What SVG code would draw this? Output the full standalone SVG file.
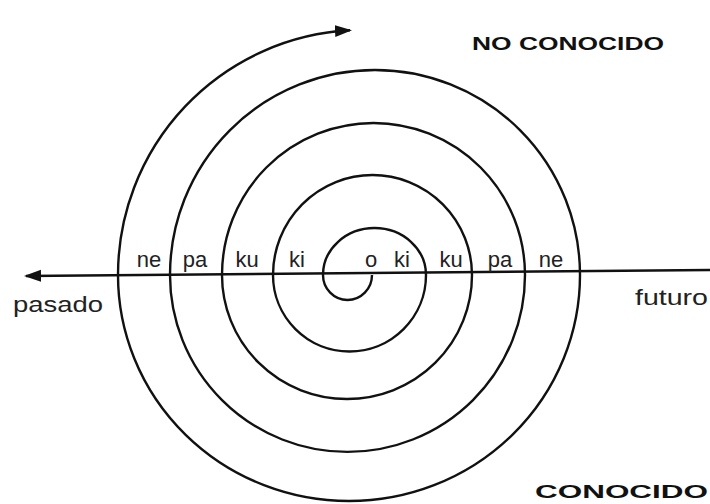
<svg xmlns="http://www.w3.org/2000/svg" width="710" height="504" viewBox="0 0 710 504">
<style>
.ln{fill:none;stroke:#111;stroke-width:2.4}
.lb{font-family:"Liberation Sans",Arial,sans-serif;font-size:22px;fill:#222}
.hd{font-family:"Liberation Sans",Arial,sans-serif;font-size:19px;font-weight:bold;fill:#111}
</style>
<defs>
<marker id="ah" markerUnits="userSpaceOnUse" markerWidth="18" markerHeight="13" refX="15" refY="6" orient="auto">
<path d="M0,0 L17,6 L0,12 z" fill="#111"/>
</marker>
</defs>
<rect width="710" height="504" fill="#fff"/>
<g id="connectors">
<path id="axis" class="ln" d="M710,270 L26,276" marker-end="url(#ah)"/>
<path id="spiral" class="ln" d="M372,275 A24.5,25 0 0 1 323,275 A51.5,47 0 0 1 426,275 A76.5,76.5 0 0 1 273,275 A99.5,100 0 0 1 472,275 A125,124 0 0 1 222,275 A151.5,152 0 0 1 525,275 A177.5,177 0 0 1 170,275 A205,205 0 0 1 580,275 A231,226 0 0 1 118,275 A245,245 0 0 1 350,30.3" marker-end="url(#ah)"/>
</g>
<g id="labels-left">
<text class="lb" x="149" y="267" text-anchor="middle">ne</text>
<text class="lb" x="195" y="267" text-anchor="middle">pa</text>
<text class="lb" x="247" y="267" text-anchor="middle">ku</text>
<text class="lb" x="297" y="267" text-anchor="middle">ki</text>
</g>
<g id="labels-right">
<text class="lb" x="371" y="267" text-anchor="middle">o</text>
<text class="lb" x="402" y="267" text-anchor="middle">ki</text>
<text class="lb" x="451" y="267" text-anchor="middle">ku</text>
<text class="lb" x="500" y="267" text-anchor="middle">pa</text>
<text class="lb" x="551" y="267" text-anchor="middle">ne</text>
</g>
<g id="pasado"><text class="lb" x="13" y="312" textLength="90" lengthAdjust="spacingAndGlyphs">pasado</text></g>
<g id="futuro"><text class="lb" x="635" y="305" textLength="73" lengthAdjust="spacingAndGlyphs">futuro</text></g>
<g id="no-conocido"><text class="hd" x="472" y="50" textLength="192" lengthAdjust="spacingAndGlyphs">NO CONOCIDO</text></g>
<g id="conocido"><text class="hd" x="535" y="498" textLength="173" lengthAdjust="spacingAndGlyphs">CONOCIDO</text></g>
</svg>
